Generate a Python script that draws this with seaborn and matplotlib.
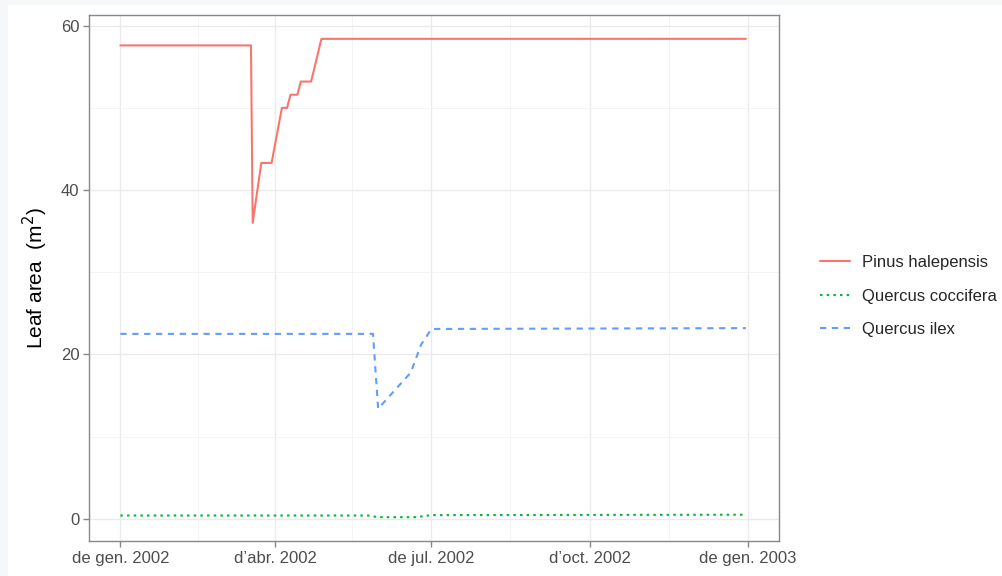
import matplotlib
matplotlib.use("Agg")
import matplotlib.pyplot as plt
import matplotlib.patches as mpatches
import pandas as pd
import seaborn as sns

# breakpoints (date, leaf area m2)
pinus_dates = ["2002-01-01", "2002-03-18", "2002-03-19", "2002-03-24", "2002-03-30",
               "2002-04-05", "2002-04-08", "2002-04-10", "2002-04-14", "2002-04-16",
               "2002-04-22", "2002-04-28", "2002-12-31"]
pinus_vals = [57.6, 57.6, 36.0, 43.3, 43.3, 50.0, 50.0, 51.6, 51.6, 53.2, 53.2, 58.4, 58.4]

cocc_dates = ["2002-01-01", "2002-05-27", "2002-05-30", "2002-06-22", "2002-07-01", "2002-12-31"]
cocc_vals = [0.4, 0.4, 0.2, 0.2, 0.45, 0.5]

ilex_dates = ["2002-01-01", "2002-05-28", "2002-05-31", "2002-06-19", "2002-06-25",
              "2002-07-01", "2002-12-31"]
ilex_vals = [22.5, 22.5, 13.4, 17.8, 21.2, 23.1, 23.2]

species = ["Pinus halepensis", "Quercus coccifera", "Quercus ilex"]
colors = ["#F8766D", "#00BA38", "#619CFF"]

tick_dates = ["2002-01-01", "2002-04-01", "2002-07-01", "2002-10-01", "2003-01-01"]
tick_labels = ["de gen. 2002", "d\u2019abr. 2002", "de jul. 2002", "d\u2019oct. 2002", "de gen. 2003"]
minor_dates = ["2002-02-15", "2002-05-16", "2002-08-16", "2002-11-16"]

frames = []
for sp, d, v in zip(species, [pinus_dates, cocc_dates, ilex_dates], [pinus_vals, cocc_vals, ilex_vals]):
    frames.append(pd.DataFrame({"date": pd.to_datetime(d), "area": v, "species": sp}))
df = pd.concat(frames, ignore_index=True)

sns.set_theme(style="white")
plt.rcParams["font.family"] = ["Liberation Sans", "DejaVu Sans"]

fig = plt.figure(figsize=(10.02, 5.76), dpi=100)
fig.patch.set_facecolor("#f6f7f9")
fig.add_artist(mpatches.Rectangle((8 / 1002, 0), 1, 1 - 5 / 576, transform=fig.transFigure,
                                  facecolor="white", edgecolor="none", zorder=-1))
ax = fig.add_axes([89 / 1002, 1 - 541 / 576, 690 / 1002, 526 / 576])
ax.set_facecolor("white")

sns.lineplot(data=df, x="date", y="area", hue="species", style="species",
             palette=dict(zip(species, colors)),
             dashes={"Pinus halepensis": "", "Quercus coccifera": (1.2, 2), "Quercus ilex": (3, 2.7)},
             linewidth=1.5, ax=ax, estimator=None, sort=False)

d0 = pd.Timestamp("2002-01-01")
d1 = pd.Timestamp("2003-01-01")
pad = (d1 - d0) * 0.05
ax.set_xlim(d0 - pad, d1 + pad)
ax.set_ylim(-2.7, 61.3)

ax.set_xticks(pd.to_datetime(tick_dates))
ax.set_xticklabels(tick_labels)
ax.set_xticks(pd.to_datetime(minor_dates), minor=True)
ax.set_yticks([0, 20, 40, 60])
ax.set_yticks([10, 30, 50], minor=True)

ax.grid(True, which="major", color="#ebebeb", linewidth=1.0)
ax.grid(True, which="minor", color="#f2f2f2", linewidth=0.6)
ax.set_axisbelow(True)
for s in ax.spines.values():
    s.set_color("#888888")
    s.set_linewidth(1.0)

ax.tick_params(axis="both", which="major", length=4, width=1, color="#888888",
               labelsize=12, labelcolor="#4d4d4d", pad=3, direction="out",
               bottom=True, left=True)
ax.tick_params(axis="both", which="minor", length=0)

ax.set_xlabel("")
ax.set_ylabel(r"Leaf area  (m$^2$)", fontsize=15, color="black", labelpad=8)

handles, labels = ax.get_legend_handles_labels()
ax.legend_.remove()
fig.legend(handles, labels, loc="center left", bbox_to_anchor=(805 / 1002, 1 - 296 / 576),
           frameon=False, fontsize=12, handlelength=1.8, handletextpad=0.7,
           labelspacing=1.1)

fig.savefig("out.png", dpi=100)
